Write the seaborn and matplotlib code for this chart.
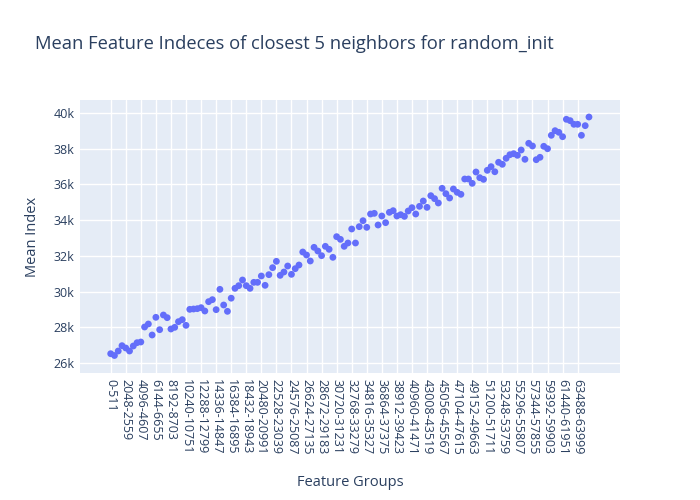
import matplotlib
matplotlib.use("Agg")
import matplotlib.pyplot as plt
import seaborn as sns
import pandas as pd

# Feature groups (512 features each)
groups = [f"{i*512}-{i*512+511}" for i in range(128)]

mean_index = [
    26521, 26420, 26672, 26970, 26840, 26672, 26952, 27138,
    27176, 28016, 28184, 27568, 28558, 27866, 28688, 28539,
    27904, 27997, 28315, 28427, 28109, 29005, 29024, 29043,
    29099, 28912, 29435, 29547, 28987, 30125, 29248, 28893,
    29630, 30181, 30331, 30648, 30331, 30181, 30517, 30517,
    30872, 30350, 30947, 31339, 31694, 30909, 31096, 31432,
    30965, 31283, 31488, 32216, 32048, 31712, 32478, 32272,
    32011, 32534, 32366, 31918, 33075, 32925, 32534, 32720,
    33504, 32720, 33635, 33970, 33598, 34344, 34381, 33728,
    34232, 33859, 34437, 34530, 34232, 34306, 34213, 34512,
    34698, 34344, 34773, 35072, 34717, 35370, 35203, 34960,
    35782, 35483, 35240, 35744, 35558, 35446, 36304, 36304,
    36061, 36696, 36378, 36285, 36790, 36995, 36710, 37239,
    37127, 37463, 37665, 37721, 37631, 37928, 37407, 38303,
    38152, 37385, 37519, 38135, 38000, 38751, 39010, 38919,
    38673, 39647, 39572, 39367, 39367, 38751, 39291, 39776,
]

yticks = [26000, 28000, 30000, 32000, 34000, 36000, 38000, 40000]
ytick_labels = ["26k", "28k", "30k", "32k", "34k", "36k", "38k", "40k"]

df = pd.DataFrame({"Feature Groups": groups, "Mean Index": mean_index})

sns.set_theme(style="white")
plt.rcParams["font.family"] = ["Open Sans", "DejaVu Sans"]

text_color = "#2a3f5f"
fig = plt.figure(figsize=(7, 5), dpi=100)
ax = fig.add_axes([80/700, 1-373/500, 540/700, 273/500])
ax.set_facecolor("#E5ECF6")

sns.scatterplot(data=df, x="Feature Groups", y="Mean Index", ax=ax,
                color="#636EFA", s=24, edgecolor="none", linewidth=0, zorder=3)

tick_pos = list(range(0, len(groups), 4))
ax.set_xticks(tick_pos)
ax.set_xticklabels([groups[i] for i in tick_pos], rotation=-90,
                   fontsize=9, color=text_color, va="top", ha="center")
ax.set_yticks(yticks)
ax.set_yticklabels(ytick_labels, fontsize=9, color=text_color)
ax.set_xlim(-8.15, 135.24)
ax.set_ylim(25440, 40728)

ax.grid(True, color="white", linewidth=1.0, zorder=0)
ax.set_axisbelow(True)
for s in ax.spines.values():
    s.set_visible(False)
ax.tick_params(axis="both", length=0, pad=4)

ax.set_xlabel("")
ax.set_ylabel("")
fig.text(350/700, 1-483/500, "Feature Groups", ha="center", va="center",
         fontsize=10.5, color=text_color)
fig.text(33/700, 1-237/500, "Mean Index", ha="center", va="center",
         rotation=90, fontsize=10.5, color=text_color)
fig.text(35/700, 1-44/500,
         "Mean Feature Indeces of closest 5 neighbors for random_init",
         ha="left", va="center", fontsize=13.2, color=text_color)

fig.savefig("out.png", dpi=100, facecolor="white")
